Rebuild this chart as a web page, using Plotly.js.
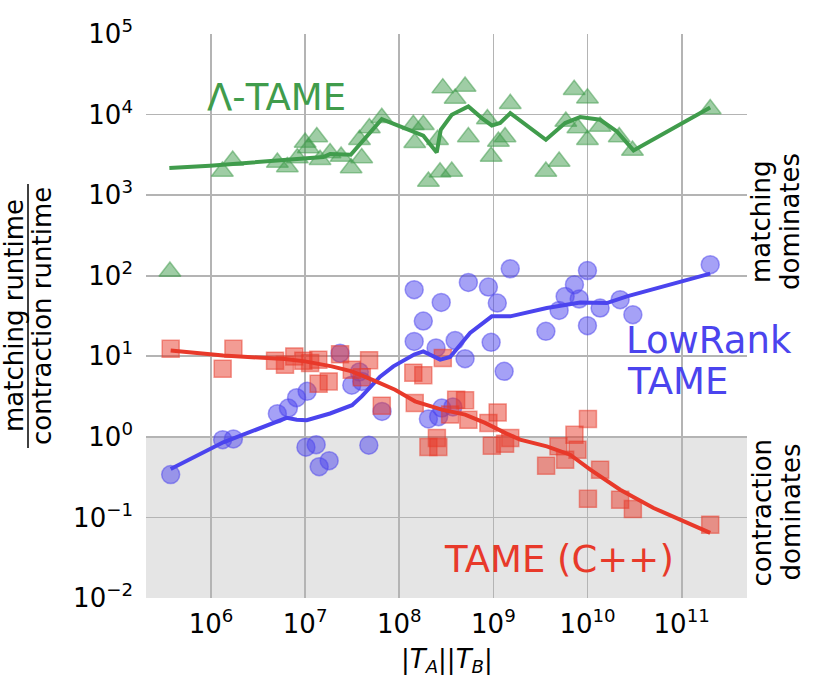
<!DOCTYPE html>
<html>
<head>
<meta charset="utf-8">
<script src="https://cdn.plot.ly/plotly-3.0.1.min.js"></script>
<style>html,body{margin:0;padding:0;background:#fff;}#chart{width:830px;height:684px;}</style>
</head>
<body>
<div id="chart"></div>
<script>
// Λ-TAME (green triangles)
const greenX = [1.32e6, 1.70e6, 5.07e6, 6.47e6, 8.26e6, 1.00e7, 1.33e7, 1.08e7, 1.44e7, 1.84e7, 2.41e7, 3.08e7, 3.99e7, 3.78e7, 4.81e7, 6.52e7, 1.41e8, 1.80e8, 1.46e8, 2.55e8, 2.04e8, 2.71e8, 3.61e8, 2.90e8, 3.92e8, 5.00e8, 5.42e8, 8.63e8, 9.46e8, 1.13e9, 1.33e9, 1.51e9, 3.61e9, 4.99e9, 5.88e9, 7.21e9, 7.89e9, 9.98e9, 9.98e9, 1.36e10, 2.17e10, 3.00e10, 2.01e11, 3.66e5];
const greenY = [1970, 2690, 2545, 2230, 2890, 4510, 5260, 3840, 2750, 3330, 3020, 2170, 2890, 4870, 6800, 9120, 7470, 7470, 4470, 4870, 1480, 1920, 1970, 21300, 15800, 22300, 5260, 8790, 3020, 4640, 5260, 13600, 1970, 2620, 8210, 20300, 6800, 16000, 4870, 7120, 5260, 3590, 11700, 113];
const greenLineX = [3.61e5, 9.75e5, 1.56e7, 1.84e7, 3.05e7, 6.52e7, 1.02e8, 1.80e8, 2.50e8, 2.76e8, 3.61e8, 5.42e8, 7.53e8, 9.62e8, 1.18e9, 1.51e9, 3.61e9, 5.78e9, 8.34e9, 1.36e10, 2.05e10, 3.08e10, 2.01e11];
const greenLineY = [2170, 2317, 2970, 3235, 3170, 8790, 7120, 5460, 3390, 6480, 9950, 12600, 9050, 7330, 7850, 10400, 4870, 7850, 9310, 8620, 6170, 3590, 12200];

// LowRank TAME (blue circles)
const blueX = [3.73e5, 1.33e6, 1.73e6, 5.07e6, 6.64e6, 8.11e6, 1.05e7, 2.35e7, 3.77e7, 3.13e7, 4.00e7, 6.56e7, 1.02e7, 1.31e7, 1.41e7, 1.80e7, 4.75e7, 1.44e8, 1.80e8, 1.44e8, 2.46e8, 2.79e8, 2.04e8, 2.62e8, 2.83e8, 3.71e8, 3.92e8, 5.00e8, 5.42e8, 8.85e8, 1.51e9, 1.10e9, 9.46e8, 1.30e9, 3.61e9, 4.99e9, 5.78e9, 7.26e9, 8.15e9, 9.98e9, 9.98e9, 1.36e10, 2.22e10, 3.03e10, 2.01e11];
const blueY = [0.340, 0.923, 0.942, 1.94, 2.28, 3.06, 3.67, 10.9, 6.39, 4.38, 4.88, 2.07, 0.745, 0.80, 0.427, 0.507, 0.789, 67.0, 27.4, 15.3, 12.7, 46.6, 1.67, 1.78, 2.28, 2.35, 15.7, 9.33, 82.6, 72.4, 122, 45.8, 14.9, 6.50, 20.4, 37.1, 55.4, 77.3, 51.4, 116, 24.0, 39.7, 50.4, 32.8, 137];
const blueLineX = [3.73e5, 1.35e6, 6.37e6, 8.15e6, 1.04e7, 1.84e7, 3.15e7, 3.99e7, 6.25e7, 8.65e7, 1.44e8, 1.80e8, 2.72e8, 3.47e8, 5.65e8, 9.62e8, 1.51e9, 3.69e9, 8.34e9, 1.60e10, 2.62e10, 2.01e11];
const blueLineY = [0.400, 0.855, 1.72, 1.63, 1.61, 1.95, 2.47, 3.18, 5.58, 7.50, 10.5, 11.5, 9.08, 9.80, 19.5, 31.3, 31.3, 39.7, 46.6, 45.8, 55.4, 106];

// TAME (C++) (red squares)
const redX = [3.73e5, 1.73e6, 1.33e6, 4.79e6, 6.11e6, 7.67e6, 9.57e6, 1.13e7, 1.38e7, 1.39e7, 1.78e7, 2.35e7, 3.13e7, 4.00e7, 4.78e7, 6.52e7, 1.41e8, 1.80e8, 1.46e8, 2.90e8, 4.02e8, 5.00e8, 3.47e8, 5.42e8, 1.11e9, 8.85e8, 2.51e8, 2.04e8, 2.60e8, 9.62e8, 1.33e9, 1.51e9, 1.01e10, 7.26e9, 4.91e9, 7.82e9, 5.78e9, 3.63e9, 1.36e10, 1.01e10, 2.22e10, 3.03e10, 2.01e11];
const redY = [12.4, 12.4, 7.02, 8.82, 7.87, 9.97, 8.82, 8.26, 9.08, 4.57, 4.88, 10.6, 6.82, 5.50, 8.95, 2.44, 6.26, 5.83, 2.63, 9.53, 2.89, 2.85, 1.89, 1.63, 2.01, 1.49, 0.969, 0.749, 0.749, 0.778, 0.823, 0.969, 1.67, 1.06, 0.762, 0.694, 0.521, 0.439, 0.392, 0.170, 0.166, 0.127, 0.0814];
const redLineX = [3.73e5, 1.35e6, 6.11e6, 9.97e6, 1.92e7, 3.13e7, 5.27e7, 9.02e7, 1.47e8, 2.83e8, 5.00e8, 8.16e8, 1.33e9, 1.92e9, 3.69e9, 6.53e9, 1.07e10, 2.22e10, 5.02e10, 2.01e11];
const redLineY = [11.8, 10.2, 9.26, 8.65, 7.50, 6.50, 5.05, 3.85, 2.76, 2.18, 1.89, 1.49, 1.12, 0.923, 0.762, 0.601, 0.392, 0.221, 0.131, 0.0642];

// Tick labels
const xTickVals = [1e6, 1e7, 1e8, 1e9, 1e10, 1e11];
const xTickText = ['10<sup>6</sup>', '10<sup>7</sup>', '10<sup>8</sup>', '10<sup>9</sup>', '10<sup>10</sup>', '10<sup>11</sup>'];
const yTickVals = [1e-2, 1e-1, 1e0, 1e1, 1e2, 1e3, 1e4, 1e5];
const yTickText = ['10<sup>\u22122</sup>', '10<sup>\u22121</sup>', '10<sup>0</sup>', '10<sup>1</sup>', '10<sup>2</sup>', '10<sup>3</sup>', '10<sup>4</sup>', '10<sup>5</sup>'];

const GREEN = '#409c4c', BLUE = '#4b44ee', RED = '#e8392a';
const gA = 'rgba(64,156,76,0.5)', bA = 'rgba(75,68,238,0.5)', rA = 'rgba(232,57,42,0.5)';
const FONT = 'DejaVu Sans';

const traces = [
  {x: greenX, y: greenY, type: 'scatter', mode: 'markers',
   marker: {symbol: 'triangle-up', size: 19, color: gA, line: {color: gA, width: 1.5}}},
  {x: blueX, y: blueY, type: 'scatter', mode: 'markers',
   marker: {symbol: 'circle', size: 18, color: bA, line: {color: bA, width: 1.5}}},
  {x: redX, y: redY, type: 'scatter', mode: 'markers',
   marker: {symbol: 'square', size: 17, color: rA, line: {color: rA, width: 1.5}}},
  {x: greenLineX, y: greenLineY, type: 'scatter', mode: 'lines', line: {color: GREEN, width: 4}},
  {x: blueLineX, y: blueLineY, type: 'scatter', mode: 'lines', line: {color: BLUE, width: 4}},
  {x: redLineX, y: redLineY, type: 'scatter', mode: 'lines', line: {color: RED, width: 4}}
];

const W = 830, H = 684, L = 146, R = 83, T = 34, B = 86;
const pw = W - L - R, ph = H - T - B;
const px = v => (v - L) / pw;        // pixel -> paper x
const py = v => (H - B - v) / ph;    // pixel -> paper y

function ann(text, x, y, opts) {
  return Object.assign({text: text, x: x, y: y, xref: 'paper', yref: 'paper',
    showarrow: false, xanchor: 'center', yanchor: 'middle',
    font: {family: FONT, size: 26, color: '#000'}}, opts || {});
}

const layout = {
  width: W, height: H,
  margin: {l: L, r: R, t: T, b: B, pad: 0},
  paper_bgcolor: '#fff', plot_bgcolor: '#fff',
  showlegend: false,
  font: {family: FONT, size: 26, color: '#000'},
  xaxis: {type: 'log', range: [5.3095, 11.694], showline: false, zeroline: false,
    showgrid: true, gridcolor: '#b4b4b4', gridwidth: 1.8,
    tickmode: 'array', tickvals: xTickVals, ticktext: xTickText, ticks: '',
    ticklabelstandoff: 8, tickfont: {family: FONT, size: 26, color: '#000'}},
  yaxis: {type: 'log', range: [-2, 5], showline: false, zeroline: false,
    showgrid: true, gridcolor: '#b4b4b4', gridwidth: 1.8,
    tickmode: 'array', tickvals: yTickVals, ticktext: yTickText, ticks: '',
    ticklabelstandoff: 12, tickfont: {family: FONT, size: 26, color: '#000'}},
  shapes: [
    {type: 'rect', xref: 'paper', yref: 'paper', x0: 0, x1: 1, y0: 0, y1: 2/7,
     fillcolor: '#e5e5e5', line: {width: 0}, layer: 'below'},
    {type: 'line', xref: 'paper', yref: 'paper', x0: px(28), x1: px(28), y0: py(184), y1: py(448),
     line: {color: '#000', width: 1.5}}
  ],
  annotations: [
    ann('\u039b-TAME', px(205), py(97.5), {xanchor: 'left', font: {family: FONT, size: 37, color: GREEN}}),
    ann('LowRank', px(624), py(340), {xanchor: 'left', font: {family: FONT, size: 37, color: BLUE}}),
    ann('TAME', px(625), py(381), {xanchor: 'left', font: {family: FONT, size: 37, color: BLUE}}),
    ann('TAME (C++)', px(442), py(559), {xanchor: 'left', font: {family: FONT, size: 37, color: RED}}),
    ann('matching', px(761), py(222), {textangle: -90}),
    ann('dominates', px(790), py(222), {textangle: -90}),
    ann('contraction', px(761), py(512.5), {textangle: -90}),
    ann('dominates', px(790), py(512.5), {textangle: -90}),
    ann('matching runtime', px(14), py(316), {textangle: -90}),
    ann('contraction runtime', px(42), py(316), {textangle: -90}),
    ann('|<i>T</i><sub><i>A</i></sub>||<i>T</i><sub><i>B</i></sub>|', px(447), py(660), {})
  ]
};

Plotly.newPlot('chart', traces, layout, {staticPlot: true, displayModeBar: false});
</script>
</body>
</html>
